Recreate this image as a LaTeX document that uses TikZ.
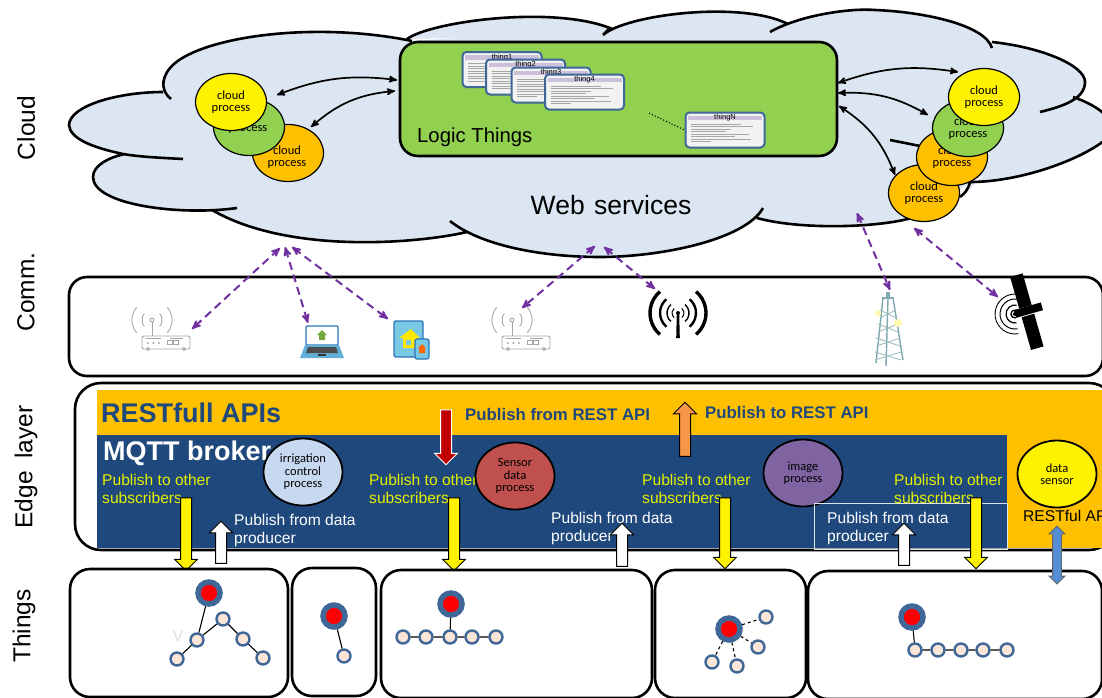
\documentclass[tikz,border=0pt]{standalone}
\usepackage{fontspec}
\setmainfont{Liberation Sans}
\newfontfamily\handfont{Carlito}
\usepackage{tikz}
\usetikzlibrary{arrows,shapes.geometric,shapes.arrows}
\definecolor{cloudblue}{HTML}{DCE6F2}
\definecolor{logicgreen}{HTML}{92D050}
\definecolor{procorange}{HTML}{FFC000}
\definecolor{brokerblue}{HTML}{1F497D}
\definecolor{thingblue}{HTML}{3F6797}
\definecolor{thingpeach}{HTML}{FBE5D6}
\definecolor{commpurple}{HTML}{7030A0}
\definecolor{subyellow}{HTML}{E4F000}
\definecolor{titlelilac}{HTML}{CCC0DA}
\definecolor{routergray}{HTML}{A6A6A6}
\definecolor{towerteal}{HTML}{7FA9AE}
\definecolor{laptopblue}{HTML}{2E75B6}
\definecolor{screenblue}{HTML}{78C8E6}
\definecolor{irrblue}{HTML}{C6D9F1}
\definecolor{sensred}{HTML}{C0504D}
\definecolor{imgpurple}{HTML}{8064A2}
\definecolor{pubred}{HTML}{C00000}
\definecolor{puborange}{HTML}{F79646}
\definecolor{databluearrow}{HTML}{558ED5}
\tikzset{
  layerlabel/.style={rotate=90,font=\fontsize{24.5}{26}\selectfont},
  layerbox/.style={draw=black,line width=2.6,rounded corners=18,fill=white},
  cloudline/.style={draw=black,line width=2.6},
  procblob/.style={ellipse,draw=black,line width=1.2,inner sep=0,minimum width=71,minimum height=57},
  edgeblob/.style={ellipse,draw=black,line width=1.8,inner sep=0,minimum width=79,minimum height=67},
  proctext/.style={font=\handfont\fontsize{12.5}{12.5}\selectfont,align=center,inner sep=0},
  thingcard/.style={draw=thingblue,line width=2,fill=white!95!black,rounded corners=4,minimum width=79,minimum height=35,inner sep=0},
  restlabel/.style={text=brokerblue,font=\bfseries\fontsize{16.8}{18}\selectfont,inner sep=0,anchor=base west},
  sublabel/.style={text=subyellow,font=\fontsize{15.6}{18}\selectfont,align=left,inner sep=0,anchor=north west},
  pubdata/.style={text=white,font=\fontsize{15.6}{18}\selectfont,align=left,inner sep=0,anchor=north west},
  flowarrow/.style={single arrow,single arrow head extend=6,minimum width=22,text height=10pt,text depth=0pt,inner sep=0,draw=black,line width=1},
  commlink/.style={<->,>=stealth',draw=commpurple,line width=2,dash pattern=on 8 off 5},
  cloudlink/.style={<->,>=stealth',draw=black,line width=1.7},
  smallthing/.style={circle,draw=thingblue,line width=2.4,fill=thingpeach,minimum size=13,inner sep=0},
  bigthing/.style={circle,draw=thingblue,line width=5.5,fill=red,minimum size=22,inner sep=0},
  thinglink/.style={draw=black,line width=1.1},
  routericon/.pic={
    \draw[routergray,line width=0.9,fill=white,rounded corners=2] (-24,16) rectangle (24,29);
    \draw[routergray,line width=0.9] (-14,16) -- (-14,2);
    \draw[routergray,line width=0.9] (-14,0) circle (2);
    \foreach \rr in {10,20} {
      \draw[routergray,line width=0.9] (-14,0) ++(40:\rr) arc[start angle=40,end angle=-40,radius=\rr];
      \draw[routergray,line width=0.9] (-14,0) ++(140:\rr) arc[start angle=140,end angle=220,radius=\rr];
    }
    \draw[routergray,line width=0.9] (-20,18.5) -- (-5,18.5) (4,18.5) -- (17,18.5);
    \foreach \rx in {-18,-12.5,-7} \fill[routergray] (\rx,23) circle (1.2);
    \draw[routergray,line width=0.8] (1,20.5) rectangle (6,24.5) (7.5,20.5) rectangle (12.5,24.5);
    \draw[routergray,line width=0.8] (-18,29) circle (1.5) (18,29) circle (1.5);
  },
  laptopicon/.pic={
    \draw[laptopblue,line width=1.2,fill=white,rounded corners=1] (-16,-17) rectangle (16,2);
    \fill[screenblue!70!laptopblue] (-17,2) -- (17,2) -- (22,15) -- (-22,15) -- cycle;
    \fill[black!70] (-14,4) -- (14,4) -- (16,10) -- (-16,10) -- cycle;
    \fill[black!80] (-4,11) rectangle (4,13);
    \fill[logicgreen!80!black] (-5,-8) -- (0,-13) -- (5,-8) -- (3,-8) -- (3,-3) -- (-3,-3) -- (-3,-8) -- cycle;
  },
  tableticon/.pic={
    \draw[laptopblue,line width=1.4,fill=screenblue,rounded corners=2] (-14,-18) rectangle (15,18);
    \fill[yellow!90!orange] (-9,-1) -- (3,-10) -- (12,-1) -- (9,-1) -- (9,9) -- (-5,9) -- (-5,-1) -- cycle;
    \fill[screenblue] (-2,1) rectangle (3,6);
    \draw[laptopblue,line width=1.2,fill=screenblue,rounded corners=2] (7,0) rectangle (21,20);
    \fill[orange!80!red] (10,9) -- (14,5) -- (18,9) -- (17,9) -- (17,14) -- (11,14) -- (11,9) -- cycle;
  },
  antennaicon/.pic={
    \fill[black] (-1.2,0) -- (1.2,0) -- (1.8,25) -- (-1.8,25) -- cycle;
    \fill[black] (0,0) circle (2);
    \foreach \rr/\rw in {6/1,11/1.4,18/2.4,28/3.4} {
      \draw[black,line width=\rw] (0,0) ++(50:\rr) arc[start angle=50,end angle=-50,radius=\rr];
      \draw[black,line width=\rw] (0,0) ++(130:\rr) arc[start angle=130,end angle=230,radius=\rr];
    }
  },
  towericon/.pic={
    \draw[towerteal,line width=1.4] (-5,0) -- (-12,65) (5,0) -- (15,62) (0,0) -- (-2,68);
    \draw[towerteal,line width=1.4] (-6,0) -- (6,0);
    \foreach \ty/\tw in {12/8,26/10,40/12,54/13} {
      \draw[towerteal!80,line width=0.8] (-\tw,\ty) -- (\tw,\ty+8) (\tw,\ty) -- (-\tw,\ty+8);
    }
    \fill[yellow!30] (-10,15) circle (3) (10,25) circle (4);
    \fill[towerteal] (-2,-6) rectangle (2,0);
  },
  satelliteicon/.pic={
    \foreach \rr/\rw in {4/1.3,9/1.2,15/1,20/0.9} {
      \draw[black,line width=\rw] (0,0) ++(80:\rr) arc[start angle=80,end angle=280,radius=\rr];
    }
    \fill[black,rotate around={16:(0,0)}] (5.5,-37) rectangle (18.5,-4) (5.5,5) rectangle (18.5,39);
    \fill[black,rotate around={16:(0,0)}] (0,-4) rectangle (28,4);
    \fill[black] (0,0) circle (2);
  }
}
\newcommand{\cloudlobes}{
  (171,99) .. controls (162,92) and (160,80) .. (170,68) .. controls (195,38) and (310,20) .. (412,41)
  (407,39) .. controls (430,22) and (550,5) .. (610,28) -- (603,35)
  (603,35) .. controls (625,15) and (740,0) .. (788,24)
  (770,32) .. controls (800,15) and (850,8) .. (875,10) .. controls (925,12) and (985,25) .. (992,48)
  (992,42) .. controls (1040,47) and (1085,65) .. (1085,82) .. controls (1085,100) and (1060,107) .. (1040,112)
  (1073,97) .. controls (1100,106) and (1125,125) .. (1105,140) .. controls (1080,160) and (1020,182) .. (970,182) .. controls (968,190) and (965,193) .. (960,197)
  (915,217) .. controls (880,228) and (800,230) .. (757,218)
  (763,208) .. controls (745,240) and (660,257) .. (600,257) .. controls (540,257) and (480,245) .. (450,221)
  (467,232) .. controls (420,243) and (290,255) .. (212,210)
  (237,208) .. controls (180,216) and (93,205) .. (93,177) .. controls (93,165) and (110,157) .. (125,154)
  (183,159) .. controls (165,158) and (140,157) .. (123,154) .. controls (90,147) and (70,138) .. (69,125) .. controls (70,105) and (120,92) .. (163,92)
  (890,140) -- (920,146)
}
\begin{document}
\begin{tikzpicture}[x=1pt,y=-1pt]
  \useasboundingbox (0,0) rectangle (1102,697);
  \clip (0,0) rectangle (1102,697);
  \fill[cloudblue] (171,99) -- (412,41) -- (610,28) -- (788,24) -- (992,45) -- (1073,97) -- (1060,125) -- (1030,150) -- (975,180) -- (915,218) -- (760,219) -- (600,250) -- (470,234) -- (215,212) -- (125,158) -- (163,92) -- cycle;
  \fill[cloudblue] \cloudlobes;
  \draw[cloudline] \cloudlobes;
  \node (logicbox) [draw=black,line width=2.6,fill=logicgreen,rounded corners=18,minimum width=437,minimum height=114,inner sep=0] at (618.5,99) {};
  \node (logictext) [font=\fontsize{20.3}{22}\selectfont,inner sep=0,anchor=base west] at (417,142) {Logic Things};
  \node (webtext) [font=\fontsize{26.5}{28}\selectfont,inner sep=0] at (611,205) {Web\hspace{2pt} services};
  \foreach \cname/\cx/\cy/\ctitle in {thingA/502/69.5/thing1,thingB/525.5/77/thing2,thingC/551/85/thing3,thingD/584.5/92/thing4,thingE/725/130/thingN} {
    \node (\cname) [thingcard] at (\cx,\cy) {};
    \fill[titlelilac] (\cx-37,\cy-14.5) rectangle (\cx+37,\cy-10);
    \node (\cname title) [font=\fontsize{7.5}{8}\selectfont,inner sep=0] at (\cx,\cy-12) {\ctitle};
    \foreach \ly/\ll in {-6/50,-3.5/62,-1/40,1.5/35,4/58,6.5/44,9/60,11.5/20} {
      \draw[black!35,line width=0.3] (\cx-34,\cy+\ly) -- ++(\ll,0);
    }
  }
  \node (dotend) [inner sep=0,minimum size=0] at (649,113) {};
  \draw[dotted,line width=1.1] (dotend) -- (thingE.west);
  \foreach \pname/\px/\py/\pcol in {orangeL/288/153/procorange,greenL/249/127/logicgreen} {
    \node (\pname) [procblob,fill=\pcol] at (\px,\py) {};
  }
  \node (orangeLtext) [proctext] at (287,157) {cloud\\process};
  \node (greenLtext) [proctext] at (248,122) {cloud\\process};
  \node (yellowL) [procblob,fill=yellow,proctext] at (231,102) {cloud\\process};
  \node (orangeRb) [procblob,fill=procorange,proctext] at (924,193) {cloud\\process};
  \node (orangeRa) [procblob,fill=procorange,proctext] at (952,157) {cloud\\process};
  \node (greenR) [procblob,fill=logicgreen,proctext] at (968,128) {cloud\\process};
  \node (yellowR) [procblob,fill=yellow,proctext] at (984,97) {cloud\\process};
  \coordinate (logicA) at (397,80);
  \coordinate (logicB) at (395,91);
  \coordinate (logicC) at (838,83);
  \coordinate (logicD) at (838,93);
  \coordinate (logicE) at (839,106);
  \coordinate (yellowLpt) at (277,95);
  \coordinate (orangeLpt) at (311,127);
  \coordinate (yellowRpt) at (958,72);
  \coordinate (greenRpt) at (928,115);
  \coordinate (orangeRpt) at (895,175);
  \draw[cloudlink] (yellowLpt) to[bend left=14] (logicA);
  \draw[cloudlink] (orangeLpt) to[bend left=18] (logicB);
  \draw[cloudlink] (logicC) to[bend left=14] (yellowRpt);
  \draw[cloudlink] (logicD) to[bend left=16] (greenRpt);
  \draw[cloudlink] (logicE) to[bend left=18] (orangeRpt);
  \node (cloudlabel) [layerlabel] at (26,128) {Cloud};
  \node (commlabel) [layerlabel] at (26,292) {Comm.};
  \node (edgelabel) [layerlabel] at (26,467) {Edge\hspace{6pt} layer};
  \node (thingslabel) [layerlabel] at (24,626) {Things};
  \node (commbox) [layerbox,minimum width=1034,minimum height=99,inner sep=0] at (586,326.5) {};
  \pic at (166,320) {routericon};
  \pic at (322,343) {laptopicon};
  \pic at (408,339) {tableticon};
  \pic at (526,320) {routericon};
  \pic at (678,313) {antennaicon};
  \pic at (888,298) {towericon};
  \pic at (1015,314) {satelliteicon};
  \foreach \cname/\cx/\cy in {cloudA/280/248,cloudB/285/247,cloudC/292/247,cloudD/595/246,cloudE/604/247,cloudF/857/213,cloudG/914/228,routerA/192/329,laptopA/308/323,tabletA/388/319,routerB/522/308,antennaA/655/289,towerA/890/290,satelliteA/998/297} {
    \coordinate (\cname) at (\cx,\cy);
  }
  \draw[commlink] (cloudA) -- (routerA);
  \draw[commlink] (cloudB) -- (laptopA);
  \draw[commlink] (cloudC) -- (tabletA);
  \draw[commlink] (cloudD) -- (routerB);
  \draw[commlink] (cloudE) -- (antennaA);
  \draw[commlink] (cloudF) -- (towerA);
  \draw[commlink] (cloudG) -- (satelliteA);
  \node (edgebox) [draw=black,line width=2.6,rounded corners=26,fill=white,minimum width=1040,minimum height=167,inner sep=0] at (595,466.5) {};
  \node (restband) [fill=procorange,minimum width=1010,minimum height=158,inner sep=0] at (602,469) {};
  \node (brokerband) [fill=brokerblue,minimum width=910,minimum height=113,inner sep=0] at (552,491.5) {};
  \node (resttext) [text=brokerblue,font=\bfseries\fontsize{27}{29}\selectfont,inner sep=0,anchor=base west] at (101,422) {RESTfull APIs};
  \node (mqtttext) [text=white,font=\bfseries\fontsize{27}{29}\selectfont,inner sep=0,anchor=base west] at (103,460) {MQTT broker};
  \node (pubfromrest) [restlabel] at (465,420) {Publish from REST API};
  \node (pubtorest) [restlabel] at (705,418) {Publish to REST API};
  \foreach \sname/\sx in {subA/102,subB/369,subC/642,subD/894} {
    \node (\sname) [sublabel] at (\sx,474) {Publish to other\\subscribers};
  }
  \node (irrblob) [edgeblob,fill=irrblue,proctext] at (303,472) {irrigation\\control\\process};
  \node (sensblob) [edgeblob,fill=sensred,proctext] at (515,476) {Sensor\\data\\process};
  \node (imgblob) [edgeblob,fill=imgpurple,proctext] at (803,473) {image\\process};
  \node (datablob) [edgeblob,fill=yellow,proctext] at (1057,474) {data\\sensor};
  \node (prodA) [pubdata] at (234,514) {Publish from data\\producer};
  \node (prodB) [pubdata] at (551,512) {Publish from data\\producer};
  \node (prodC) [pubdata] at (827,512) {Publish from data\\producer};
  \node (prodbox) [draw=white!85!brokerblue,line width=1,minimum width=193,minimum height=46,inner sep=0] at (910.5,526) {};
  \node (restful) [font=\fontsize{15.6}{18}\selectfont,inner sep=0,anchor=base west] at (1023,521) {RESTful API};
  \node (fromrest) [flowarrow,fill=pubred,draw=white,minimum height=55,rotate=-90] at (446,434.5) {};
  \node (torest) [flowarrow,fill=puborange,minimum height=54,rotate=90] at (685,432) {};
  \foreach \ax/\ay/\alen in {186/531.5/73,454/531.5/73,725/530.5/71,976/530.5/71} {
    \node (down\ax) [flowarrow,fill=yellow,minimum height=\alen,rotate=-90] at (\ax,\ay) {};
  }
  \foreach \ax/\ay/\alen in {221/545/42,622/547.5/43,904/547/42} {
    \node (up\ax) [flowarrow,fill=white,minimum height=\alen,rotate=90] at (\ax,\ay) {};
  }
  \foreach \bname/\bx/\bw/\by in {boxA/179/218/633,boxB/334/84/632,boxC/516.5/271/634,boxD/730.5/151/634,boxE/955/294/635} {
    \node (\bname) [layerbox,rounded corners=20,minimum width=\bw,minimum height=128,inner sep=0] at (\bx,\by) {};
  }
  \node (dataarrow) [double arrow,double arrow head extend=3.5,minimum width=15,text height=8pt,text depth=0pt,inner sep=0,draw=black!60,line width=0.8,fill=databluearrow,minimum height=58,rotate=90] at (1057,555) {};
  \foreach \tname/\tx/\ty in {aA/197/640,aB/223/619,aC/243/639,aD/263/658,aE/177/659,bA/344/656,cA/403/637,cB/426/637,cC/450/637,cD/472/637,cE/496/637,dA/766/617,dB/758/647,dC/737/666,dD/712/662,eA/915/650,eB/938/650,eC/961/650,eD/983/650,eE/1007/650} {
    \node (\tname) [smallthing] at (\tx,\ty) {};
  }
  \foreach \tname/\tx/\ty in {aT/209/593,bT/334/616,cT/451/604,dT/729/629,eT/912/617} {
    \node (\tname) [bigthing] at (\tx,\ty) {};
  }
  \node (ghostV) [text=black!12,font=\fontsize{16}{18}\selectfont,inner sep=0] at (178,636) {V};
  \draw[thinglink] (aT) -- (aA) (aE) -- (aA) -- (aB) -- (aC) -- (aD);
  \draw[thinglink] (bT) -- (bA);
  \draw[thinglink] (cT) -- (cC) (cA) -- (cB) -- (cC) -- (cD) -- (cE);
  \draw[thinglink,dashed] (dT) -- (dA) (dT) -- (dB) (dT) -- (dC) (dT) -- (dD);
  \draw[thinglink] (eT) -- (eA) (eA) -- (eB) -- (eC) -- (eD) -- (eE);
\end{tikzpicture}
\end{document}
